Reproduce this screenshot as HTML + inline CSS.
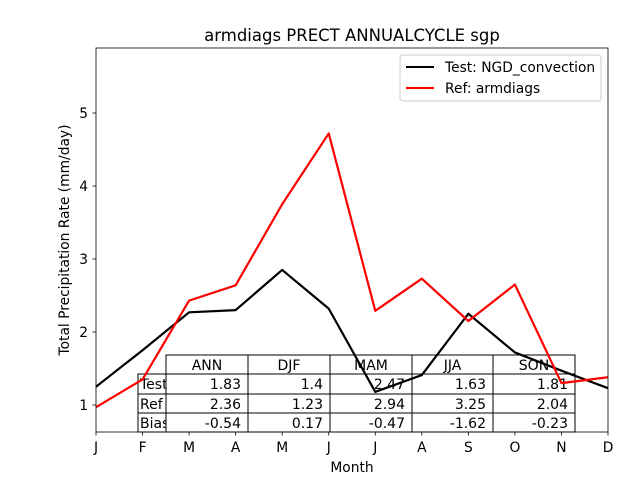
<!DOCTYPE html>
<html><head><meta charset="utf-8"><style>
body{margin:0;background:#fff}
svg{display:block;font-family:"DejaVu Sans","Liberation Sans",sans-serif}
</style></head><body>
<svg id="chart" width="640" height="480" viewBox="0 0 640 480">
<rect width="640" height="480" fill="#fff"/>
<text x="352" y="41" text-anchor="middle" font-size="16.5">armdiags PRECT ANNUALCYCLE sgp</text>
<g id="axes"></g>
<g id="table"></g>
<g id="series"></g>
<rect x="96" y="48" width="512" height="384" fill="none" stroke="#000" stroke-width="0.8"/>
<text x="352" y="472" text-anchor="middle" font-size="13.8">Month</text>
<text transform="translate(69,240) rotate(-90)" text-anchor="middle" font-size="13.8">Total Precipitation Rate (mm/day)</text>
<g>
<rect x="400" y="55" width="201" height="46" rx="3" fill="#fff" fill-opacity="0.8" stroke="#ccc"/>
<line x1="406" y1="67" x2="434" y2="67" stroke="#000" stroke-width="2"/>
<text x="445" y="72" font-size="13.8">Test: NGD_convection</text>
<line x1="406" y1="88" x2="434" y2="88" stroke="red" stroke-width="2"/>
<text x="445" y="93" font-size="13.8">Ref: armdiags</text>
</g>
</svg>
<script>
const months=["J","F","M","A","M","J","J","A","S","O","N","D"];
const testValues=[1.25,1.75,2.27,2.30,2.85,2.32,1.18,1.41,2.25,1.72,1.47,1.23];
const refValues=[0.97,1.35,2.43,2.64,3.75,4.72,2.29,2.73,2.15,2.65,1.30,1.38];
const yTicks=[1,2,3,4,5];
const tableCols=["ANN","DJF","MAM","JJA","SON"];
const tableRows=["Test","Ref","Bias"];
const tableTest=["1.83","1.4","2.47","1.63","1.81"];
const tableRef=["2.36","1.23","2.94","3.25","2.04"];
const tableBias=["-0.54","0.17","-0.47","-1.62","-0.23"];
const NS="http://www.w3.org/2000/svg";
const x=i=>96+i*512/11;
const y=v=>405-(v-1)*73;
function mk(tag,attrs,parent){const e=document.createElementNS(NS,tag);for(const k in attrs)e.setAttribute(k,attrs[k]);parent.appendChild(e);return e;}
const svgEl=document.getElementById('chart');
const defs=mk('defs',{},svgEl);
const cp=mk('clipPath',{id:'rowclip'},defs);mk('rect',{x:138,y:374,width:28,height:58},cp);
const ax=document.getElementById('axes');
months.forEach((m,i)=>{
 const t=mk('line',{x1:x(i),x2:x(i),y1:432,y2:435.5,stroke:'#000','stroke-width':0.8},ax);
 
 
 const l=mk('text',{x:x(i),y:452,'text-anchor':'middle','font-size':13.8},ax);l.textContent=m;
 
 
});
yTicks.forEach(v=>{
 const t=mk('line',{x1:92.5,x2:96,y1:y(v),y2:y(v),stroke:'#000','stroke-width':0.8},ax);
 
 
 const l=mk('text',{x:88,y:y(v)+5,'text-anchor':'end','font-size':13.8},ax);l.textContent=v;
 
 
});
const tb=document.getElementById('table');
const colX=[166,248,330,412,493,575];
const rowY=[355,374,394,413,432];
tableCols.forEach((c,j)=>{
 const r=mk('rect',{x:colX[j],y:rowY[0],width:colX[j+1]-colX[j],height:rowY[1]-rowY[0],fill:'#fff',stroke:'#000'},tb);
 
 
 const t=mk('text',{x:(colX[j]+colX[j+1])/2,y:rowY[0]+15,'text-anchor':'middle','font-size':14},tb);t.textContent=c;
 
 
});
const rowsData=[tableTest,tableRef,tableBias];
tableRows.forEach((rn,i)=>{
 const y0=rowY[i+1],h=rowY[i+2]-rowY[i+1];
 const r=mk('rect',{x:138,y:y0,width:28,height:h,fill:'#fff',stroke:'#000'},tb);
 
 
 const t=mk('text',{x:140,y:y0+15,'font-size':14,'clip-path':'url(#rowclip)'},tb);t.textContent=rn;
 
 
 rowsData[i].forEach((val,j)=>{
  const c=mk('rect',{x:colX[j],y:y0,width:colX[j+1]-colX[j],height:h,fill:'#fff',stroke:'#000'},tb);
  
  
  const tt=mk('text',{x:colX[j+1]-7,y:y0+15,'text-anchor':'end','font-size':14},tb);tt.textContent=val;
  
  
 });
});
const sg=document.getElementById('series');
function line(vals,color,name){
 const p=mk('polyline',{points:vals.map((v,i)=>x(i)+','+y(v)).join(' '),fill:'none',stroke:color,'stroke-width':2.2,'stroke-linejoin':'round'},sg);
 
 
}
line(testValues,'#000','test-series-line');
line(refValues,'red','ref-series-line');
</script>
</body></html>
